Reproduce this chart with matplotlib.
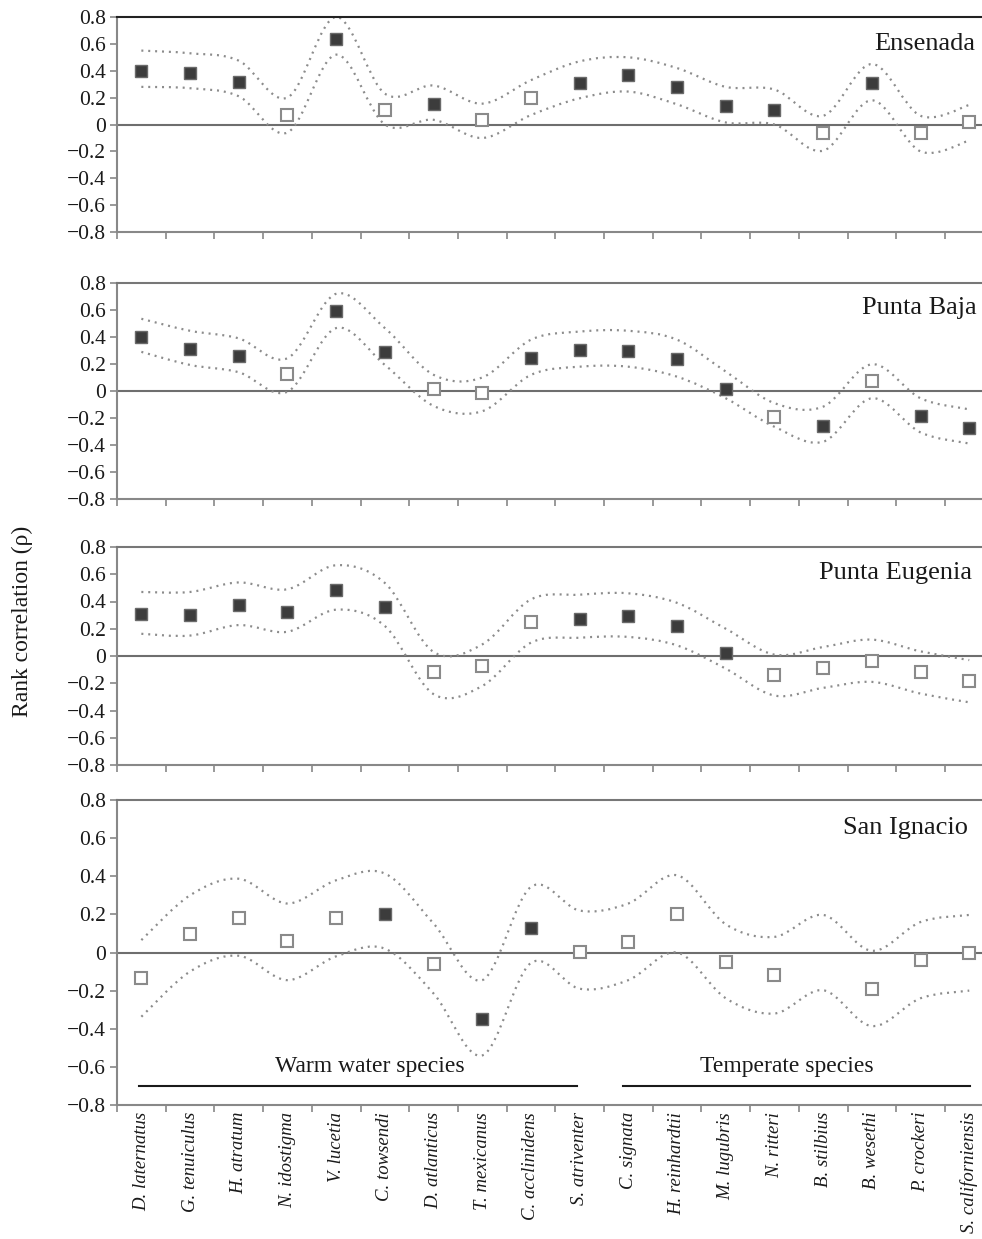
import numpy as np
import matplotlib
matplotlib.use('Agg')
import matplotlib.pyplot as plt
from matplotlib.path import Path
from matplotlib.patches import PathPatch

plt.rcParams['font.family'] = ['Liberation Serif', 'DejaVu Serif']

# ---------------- data ----------------
species = ["D. laternatus", "G. tenuiculus", "H. atratum", "N. idostigma", "V. lucetia",
           "C. towsendi", "D. atlanticus", "T. mexicanus", "C. acclinidens", "S. atriventer",
           "C. signata", "H. reinhardtii", "M. lugubris", "N. ritteri", "B. stilbius",
           "B. wesethi", "P. crockeri", "S. californiensis"]

sites = ["Ensenada", "Punta Baja", "Punta Eugenia", "San Ignacio"]

ens_rho = [0.40, 0.38, 0.32, 0.07, 0.64, 0.11, 0.15, 0.03, 0.20, 0.31, 0.37, 0.28, 0.14, 0.11, -0.06, 0.31, -0.065, 0.015]
ens_sig = [1, 1, 1, 0, 1, 0, 1, 0, 0, 1, 1, 1, 1, 1, 0, 1, 0, 0]
ens_up = [0.55, 0.53, 0.475, 0.20, 0.80, 0.23, 0.29, 0.155, 0.33, 0.47, 0.50, 0.42, 0.28, 0.26, 0.065, 0.45, 0.065, 0.145]
ens_lo = [0.28, 0.27, 0.21, -0.06, 0.52, 0.0, 0.035, -0.10, 0.07, 0.195, 0.245, 0.15, 0.015, 0.0, -0.195, 0.18, -0.20, -0.12]

pb_rho = [0.40, 0.31, 0.26, 0.126, 0.59, 0.29, 0.012, -0.017, 0.243, 0.305, 0.297, 0.235, 0.012, -0.19, -0.258, 0.077, -0.183, -0.277]
pb_sig = [1, 1, 1, 0, 1, 1, 0, 0, 1, 1, 1, 1, 1, 0, 1, 0, 1, 1]
pb_up = [0.535, 0.446, 0.39, 0.243, 0.72, 0.466, 0.12, 0.10, 0.38, 0.44, 0.446, 0.38, 0.144, -0.09, -0.116, 0.198, -0.054, -0.136]
pb_lo = [0.29, 0.193, 0.139, -0.005, 0.466, 0.193, -0.11, -0.15, 0.119, 0.18, 0.18, 0.106, -0.054, -0.265, -0.376, -0.054, -0.307, -0.389]

pe_rho = [0.31, 0.30, 0.373, 0.324, 0.488, 0.359, -0.117, -0.073, 0.251, 0.273, 0.29, 0.217, 0.024, -0.14, -0.088, -0.037, -0.12, -0.185]
pe_sig = [1, 1, 1, 1, 1, 1, 0, 0, 0, 1, 1, 1, 1, 0, 0, 0, 0, 0]
pe_up = [0.47, 0.47, 0.54, 0.49, 0.666, 0.536, 0.03, 0.085, 0.415, 0.45, 0.46, 0.39, 0.20, 0.01, 0.066, 0.12, 0.034, -0.03]
pe_lo = [0.163, 0.15, 0.227, 0.178, 0.34, 0.22, -0.28, -0.22, 0.098, 0.134, 0.14, 0.078, -0.093, -0.29, -0.234, -0.19, -0.276, -0.34]

si_rho = [-0.136, 0.096, 0.183, 0.061, 0.183, 0.204, -0.058, -0.351, 0.126, 0.005, 0.056, 0.20, -0.052, -0.119, np.nan, -0.19, -0.04, -0.005]
si_sig = [0, 0, 0, 0, 0, 1, 0, 1, 1, 0, 0, 0, 0, 0, 0, 0, 0, 0]
si_up = [0.065, 0.30, 0.387, 0.257, 0.379, 0.414, 0.152, -0.145, 0.344, 0.22, 0.257, 0.405, 0.148, 0.082, 0.197, 0.009, 0.16, 0.197]
si_lo = [-0.337, -0.10, -0.017, -0.145, -0.02, 0.02, -0.215, -0.54, -0.055, -0.19, -0.145, 0.0, -0.24, -0.32, -0.198, -0.386, -0.24, -0.20]

groups = ["Warm water species", "Temperate species"]
yticks = [0.8, 0.6, 0.4, 0.2, 0.0, -0.2, -0.4, -0.6, -0.8]
ytick_labels = ["0.8", "0.6", "0.4", "0.2", "0", "\u22120.2", "\u22120.4", "\u22120.6", "\u22120.8"]

panels = [
    (ens_rho, ens_sig, ens_up, ens_lo),
    (pb_rho, pb_sig, pb_up, pb_lo),
    (pe_rho, pe_sig, pe_up, pe_lo),
    (si_rho, si_sig, si_up, si_lo),
]

# ---------------- drawing ----------------
W, H = 982, 1239
fig = plt.figure(figsize=(W / 100, H / 100), dpi=100)

rects_px = [(17, 232), (283, 499), (547, 765), (800, 1105)]
title_pos = [(17.12, 0.558), (17.16, 0.568), (17.06, 0.565), (16.97, 0.623)]
x_right = (W - 117) / 48.7 - 0.5


def smooth_path(x, y):
    P = np.column_stack([np.asarray(x, float), np.asarray(y, float)])
    n = len(P)
    verts = [P[0]]
    codes = [Path.MOVETO]
    for i in range(n - 1):
        p0 = P[i - 1] if i > 0 else P[i]
        p3 = P[i + 2] if i + 2 < n else P[i + 1]
        c1 = P[i] + (P[i + 1] - p0) / 6.0
        c2 = P[i + 1] - (p3 - P[i]) / 6.0
        verts += [c1, c2, P[i + 1]]
        codes += [Path.CURVE4] * 3
    return Path(verts, codes)


x = np.arange(len(species))
axes = []
for k, ((top, bot), (rho, sig, up, lo)) in enumerate(zip(rects_px, panels)):
    ax = fig.add_axes([117 / W, 1 - bot / H, (W - 117) / W, (bot - top) / H])
    axes.append(ax)

    ax.axhline(0, color='#6e6e6e', lw=1.5, zorder=1)

    for band in (up, lo):
        ax.add_patch(PathPatch(smooth_path(x, band), fill=False, edgecolor='#8c8c8c',
                               lw=1.6, linestyle=(0, (0.9, 2.2)), zorder=2))

    rho = np.asarray(rho, float)
    sig = np.asarray(sig, bool)
    ax.plot(x[sig], rho[sig], 's', ms=8.8, mfc='#3c3c3c', mec='#6a6a6a', mew=1.0,
            ls='none', zorder=3)
    ax.plot(x[~sig], rho[~sig], 's', ms=8.8, mfc='white', mec='#8a8a8a', mew=1.5,
            ls='none', zorder=3)

    ax.text(title_pos[k][0], title_pos[k][1], sites[k], ha='right', va='baseline',
            fontsize=19, color='#1a1a1a')

    ax.set_yticks(yticks)
    ax.set_yticklabels(ytick_labels, fontsize=15.5, color='#1a1a1a')
    ax.tick_params(axis='y', direction='out', length=5, width=1.2, color='#888888', pad=3)

    ax.set_xticks(x)
    ax.set_xticks(np.arange(-0.5, len(species) - 0.9, 1.0), minor=True)
    ax.tick_params(axis='x', which='major', length=0, pad=5)
    ax.tick_params(axis='x', which='minor', direction='out', length=5, width=1.2, color='#888888')
    if k < 3:
        ax.tick_params(axis='x', which='major', labelbottom=False)
    else:
        ax.set_xticklabels(species, rotation=90, fontsize=13.5, style='italic',
                           va='top', ha='center', color='#1a1a1a')

    ax.set_xlim(-0.5, x_right)
    ax.set_ylim(-0.8, 0.8)

    for side in ('left', 'bottom'):
        ax.spines[side].set_color('#888888')
        ax.spines[side].set_linewidth(1.5)
    ax.spines['top'].set_color('#222222' if k == 0 else '#777777')
    ax.spines['top'].set_linewidth(1.5)
    ax.spines['right'].set_visible(False)

# group annotations in bottom panel
ax = axes[3]
ax.plot([-0.05, 8.95], [-0.702, -0.702], color='#1a1a1a', lw=1.5)
ax.plot([9.89, 17.02], [-0.702, -0.702], color='#1a1a1a', lw=1.5)
ax.text(4.7, -0.628, groups[0], ha='center', va='baseline', fontsize=17, color='#1a1a1a')
ax.text(13.26, -0.628, groups[1], ha='center', va='baseline', fontsize=17, color='#1a1a1a')
ax.set_xlim(-0.5, x_right)

fig.text(22 / W, 1 - 621 / H, "Rank correlation (\u03c1)", rotation=90, ha='center', va='center',
         fontsize=17, color='#1a1a1a')

fig.savefig('out.png', dpi=100)
